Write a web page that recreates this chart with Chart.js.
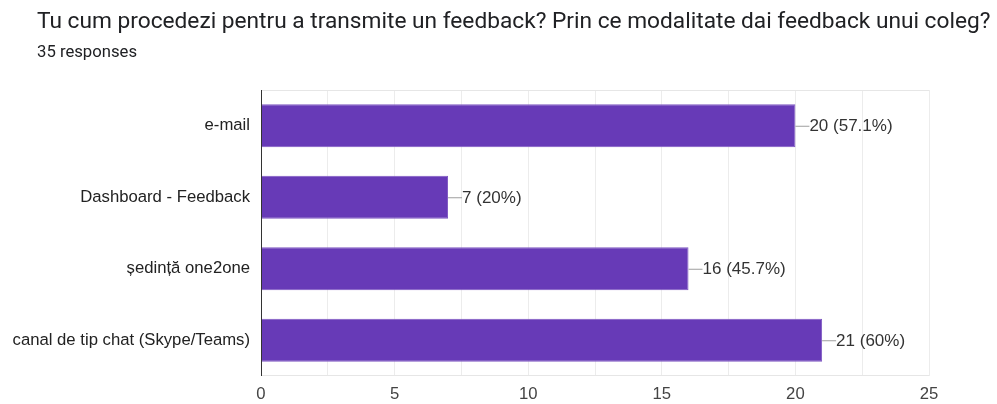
<!DOCTYPE html>
<html>
<head>
<meta charset="utf-8">
<script src="https://cdn.jsdelivr.net/npm/chart.js@4"></script>
<style>
  body { margin: 0; background: #fff; font-family: Roboto, Arial, sans-serif; }
  #wrap { position: relative; width: 997px; height: 404px; }
  #title { position: absolute; left: 37px; top: 7px; font-size: 22.7px; color: #202124; white-space: nowrap; }
  #sub { position: absolute; left: 37px; top: 42px; font-size: 16.7px; color: #202124; }
  #chart { position: absolute; left: 0; top: 0; }
</style>
</head>
<body>
<div id="wrap">
  <canvas id="chart" width="997" height="404"></canvas>
  <div id="title">Tu cum procedezi pentru a transmite un feedback? Prin ce modalitate dai feedback unui coleg?</div>
  <div id="sub">35 responses</div>
</div>
<script>
const categories = ['e-mail', 'Dashboard - Feedback', 'ședință one2one', 'canal de tip chat (Skype/Teams)'];
const counts = [20, 7, 16, 21];
const percentLabels = ['57.1%', '20%', '45.7%', '60%'];
const xTicks = [0, 5, 10, 15, 20, 25];

// plot box in page pixels
const plotLeft = 261, plotRight = 929, plotTop = 90, plotBottom = 376;
const chartFont = '"Liberation Sans", Arial, sans-serif';

const valueLabels = {
    id: 'valueLabels',
    afterDatasetsDraw(chart) {
        const ctx = chart.ctx;
        const meta = chart.getDatasetMeta(0);
        ctx.save();
        ctx.font = '17px ' + chartFont;
        ctx.textBaseline = 'middle';
        meta.data.forEach(function(bar, i) {
            const x = bar.x, y = bar.y;
            ctx.strokeStyle = '#9e9e9e';
            ctx.lineWidth = 1;
            ctx.beginPath();
            ctx.moveTo(x, y + 0.5);
            ctx.lineTo(x + 14, y + 0.5);
            ctx.stroke();
            ctx.fillStyle = '#333333';
            ctx.fillText(counts[i] + ' (' + percentLabels[i] + ')', x + 14, y + 1);
        });
        ctx.restore();
    }
};

const boxLines = {
    id: 'boxLines',
    beforeDatasetsDraw(chart) {
        const a = chart.chartArea;
        const ctx = chart.ctx;
        ctx.save();
        ctx.strokeStyle = '#e6e6e6';
        ctx.lineWidth = 1;
        ctx.beginPath();
        ctx.moveTo(a.left, a.top + 0.5);
        ctx.lineTo(a.right, a.top + 0.5);
        ctx.moveTo(a.left, a.bottom - 0.5);
        ctx.lineTo(a.right, a.bottom - 0.5);
        ctx.stroke();
        ctx.restore();
    },
    afterDatasetsDraw(chart) {
        const a = chart.chartArea;
        const ctx = chart.ctx;
        ctx.save();
        ctx.strokeStyle = '#333333';
        ctx.lineWidth = 1;
        ctx.beginPath();
        ctx.moveTo(a.left + 0.5, a.top);
        ctx.lineTo(a.left + 0.5, a.bottom);
        ctx.stroke();
        ctx.restore();
    }
};

new Chart(document.getElementById('chart'), {
    type: 'bar',
    data: {
        labels: categories,
        datasets: [{
            data: counts,
            backgroundColor: '#673ab7',
            borderColor: '#7e57c2',
            borderWidth: 1,
            categoryPercentage: 1,
            barPercentage: 0.6
        }]
    },
    plugins: [boxLines, valueLabels],
    options: {
        responsive: false,
        animation: false,
        indexAxis: 'y',
        layout: { padding: { left: 0, top: plotTop, right: 997 - plotRight, bottom: 0 } },
        plugins: {
            legend: { display: false },
            tooltip: { enabled: false }
        },
        scales: {
            x: {
                min: xTicks[0],
                max: xTicks[xTicks.length - 1],
                ticks: {
                    stepSize: 2.5,
                    color: '#444444',
                    font: { family: chartFont, size: 16.7 },
                    padding: 8,
                    maxRotation: 0,
                    callback: function(v) { return xTicks.includes(v) ? String(v) : ''; }
                },
                grid: { color: '#ececec', drawTicks: false },
                border: { display: false },
                afterFit: function(s) { s.height = 404 - plotBottom; }
            },
            y: {
                ticks: {
                    color: '#222222',
                    font: { family: chartFont, size: 16.7 },
                    padding: 11
                },
                grid: { display: false, drawTicks: false },
                border: { display: false },
                afterFit: function(s) { s.width = plotLeft; }
            }
        }
    }
});
</script>
</body>
</html>
